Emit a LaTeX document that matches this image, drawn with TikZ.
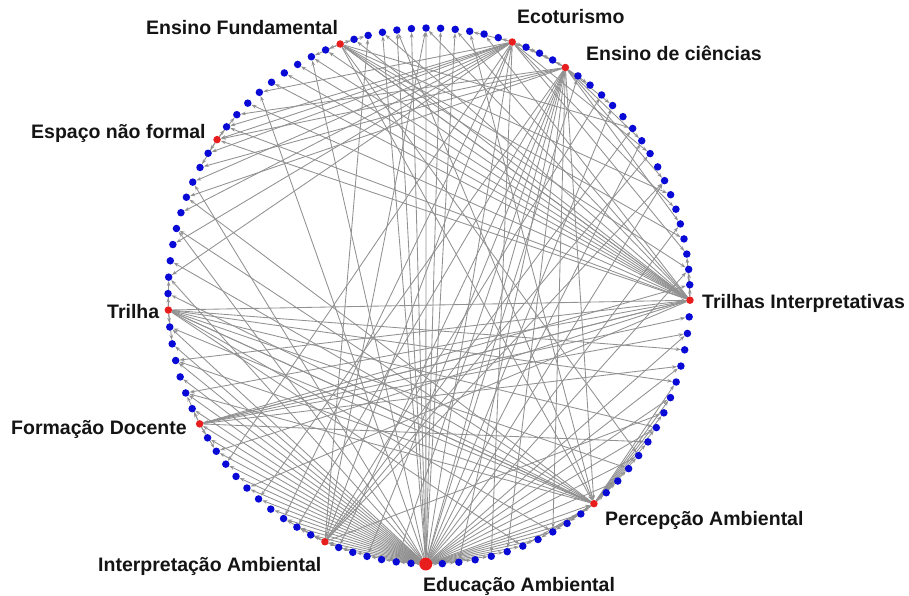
\documentclass[tikz,border=0pt]{standalone}
\usepackage{fontspec}
\setmainfont{Liberation Sans}
\usetikzlibrary{arrows.meta}
\pgfdeclarelayer{bg}
\pgfsetlayers{bg,main}
\definecolor{dotblue}{RGB}{10,10,215}
\definecolor{dotred}{RGB}{232,30,30}
\definecolor{edgegray}{RGB}{145,145,145}
\definecolor{labelcol}{RGB}{20,20,20}
\newcommand\ringseg[4]{%
  \pgfmathtruncatemacro\seglast{#2-1}%
  \foreach \k in {1,...,\seglast}{%
    \pgfmathtruncatemacro\idx{#1+\k}%
    \pgfmathsetmacro\ang{#3+(#4-#3)*\k/#2}%
    \node[bluedot] (n\idx) at ({429+261*cos(\ang)},{-296+268*sin(\ang)}) {};
  }}
\newcommand\hubnode[3]{\node[#3] (n#1) at ({429+261*cos(#2)},{-296+268*sin(#2)}) {};}
\begin{document}
\begin{tikzpicture}[x=1pt,y=1pt,
  bluedot/.style={circle,fill=dotblue,draw=none,inner sep=0pt,minimum size=7.5pt},
  reddot/.style={circle,fill=dotred,draw=none,inner sep=0pt,minimum size=7.5pt},
  bigred/.style={circle,fill=dotred,draw=none,inner sep=0pt,minimum size=13pt},
  edge/.style={draw=edgegray,line width=0.85pt,-{Stealth[length=5pt,width=3.6pt]}},
  lab/.style={inner sep=0pt,text=labelcol,font=\bfseries\fontsize{19.5}{22}\selectfont}]
\useasboundingbox (0,0) rectangle (909,-596);
% hubs
\hubnode{0}{-0.9}{reddot}
\hubnode{18}{58.5}{reddot}
\hubnode{22}{71.4}{reddot}
\hubnode{34}{109.9}{reddot}
\hubnode{44}{144.3}{reddot}
\hubnode{55}{183}{reddot}
\hubnode{62}{208.5}{reddot}
\hubnode{73}{246.5}{reddot}
\hubnode{80}{269.3}{bigred}
\hubnode{91}{309.2}{reddot}
% ring of other nodes
\ringseg{0}{18}{-0.9}{58.5}
\ringseg{18}{4}{58.5}{71.4}
\ringseg{22}{12}{71.4}{109.9}
\ringseg{34}{10}{109.9}{144.3}
\ringseg{44}{11}{144.3}{183}
\ringseg{55}{7}{183}{208.5}
\ringseg{62}{11}{208.5}{246.5}
\ringseg{73}{7}{246.5}{269.3}
\ringseg{80}{11}{269.3}{309.2}
\ringseg{91}{14}{309.2}{359.1}
% connectors
\begin{pgfonlayer}{bg}
\fill[white] (0,0) rectangle (909,-596);
\foreach \s/\tl in {
  80/{56,57,58,59,60,61,62,63,64,65,66,67,68,69,70,71,72,73,74,75,76,77,78,79,81,82,83,84,85,86,87,88,89,90,91,93,95,97,99,101,103,2,5,8,11,14,17,18,22,26,27,28,29,30,31,36,40,47,50,53},
  0/{1,2,3,24,26,28,31,33,34,35,36,37,38,39,41,43,44,58,60,62,64,67},
  18/{19,20,21,16,14,11,8,5,42,44,46,48,68,71,74,76,78,82,85,88,91},
  22/{19,20,21,23,25,40,43,44,45,47,49,51,53,10,6,3,65,70,73,84},
  34/{0,2,4,7,12,91,95,35,36,33,32},
  55/{54,53,56,57,86,88,91,94,97,100,102,0},
  62/{61,60,63,64,0,101,103,104,1,96},
  73/{72,71,70,74,75,8,10,12,15,28,32,98},
  91/{92,93,94,95,96,97,98,99,100,90,89,88,87,86,48,50,52,54,55,56,58,60,25,30},
  44/{43,45,46,42}}{
  \foreach \tg in \tl {\draw[edge] (n\s) -- (n\tg);}
}
\end{pgfonlayer}
% labels
\node[lab,anchor=west] (l22) at (517,-17) {Ecoturismo};
\node[lab,anchor=west] (l34) at (146,-28) {Ensino Fundamental};
\node[lab,anchor=west] (l18) at (586,-53) {Ensino de ciências};
\node[lab,anchor=west] (l44) at (31,-133) {Espaço não formal};
\node[lab,anchor=west] (l55) at (107,-312) {Trilha};
\node[lab,anchor=west] (l0) at (702,-303) {Trilhas Interpretativas};
\node[lab,anchor=west] (l62) at (11,-429) {Formação Docente};
\node[lab,anchor=west] (l73) at (98,-566) {Interpretação Ambiental};
\node[lab,anchor=west] (l91) at (605,-520) {Percepção Ambiental};
\node[lab,anchor=west] (l80) at (423,-586) {Educação Ambiental};
\end{tikzpicture}
\end{document}
